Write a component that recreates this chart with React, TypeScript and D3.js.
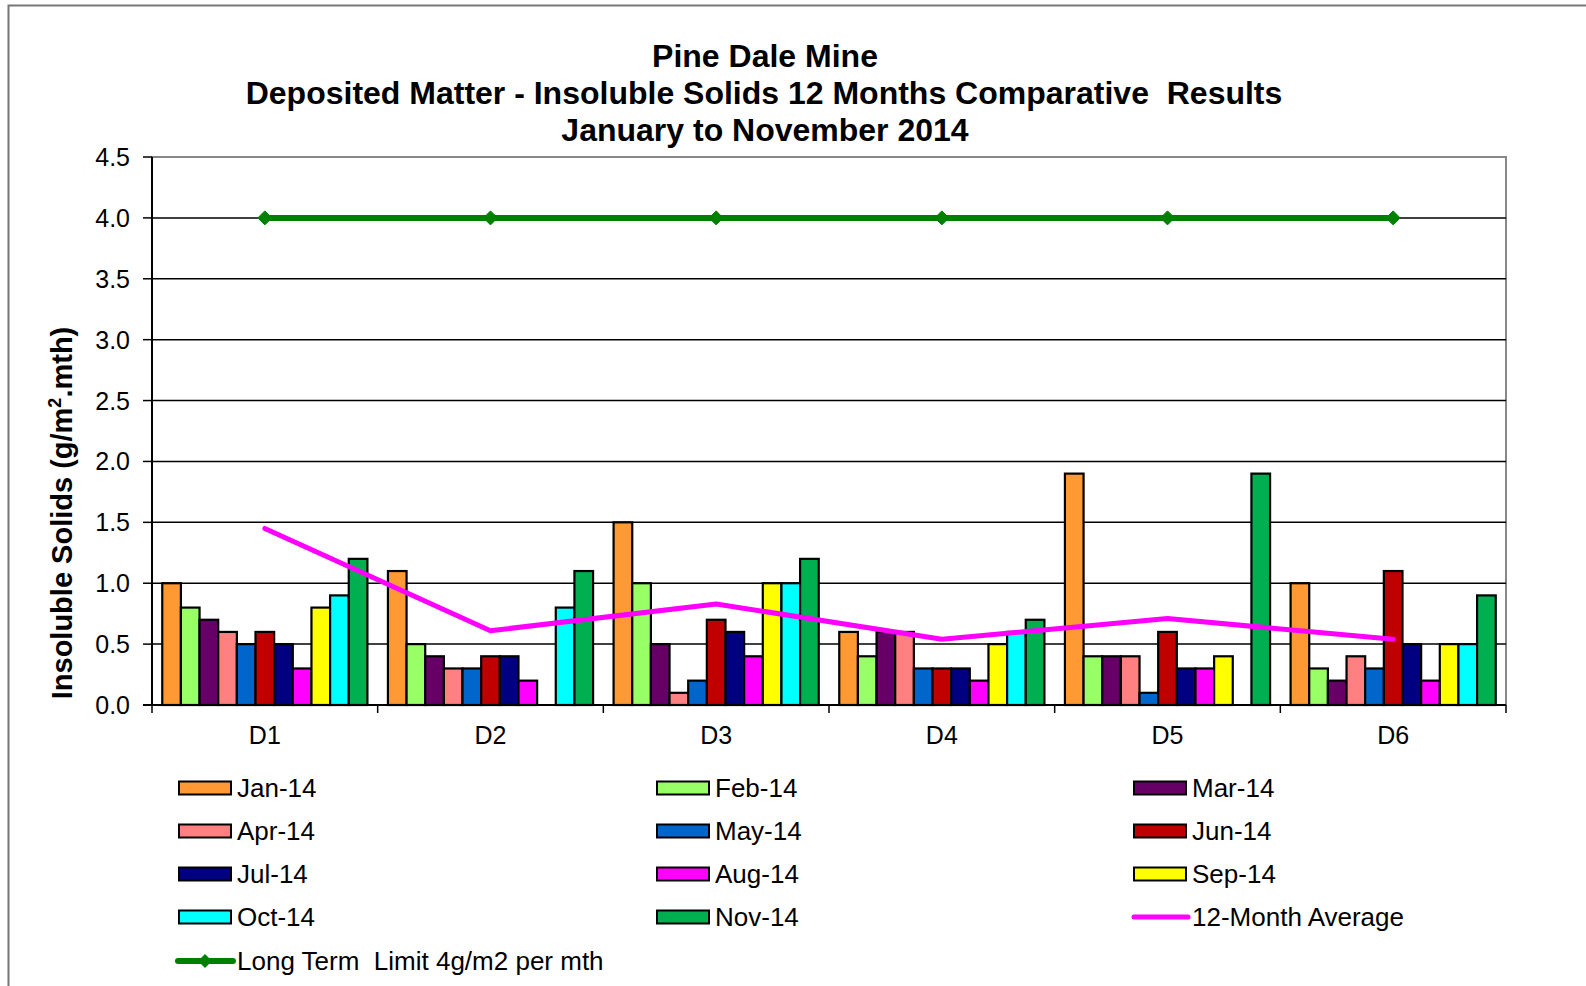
import React from "react";
import * as d3 from "d3";

// Sites and series
const sites = ["D1", "D2", "D3", "D4", "D5", "D6"];
const months = ["Jan-14", "Feb-14", "Mar-14", "Apr-14", "May-14", "Jun-14", "Jul-14", "Aug-14", "Sep-14", "Oct-14", "Nov-14"];
const monthColors = ["#FF9933", "#99FF66", "#660066", "#FF8080", "#0066CC", "#C00000", "#000080", "#FF00FF", "#FFFF00", "#00FFFF", "#00B050"];

// values per site, in month order (null = no sample)
const d1 = [1.0, 0.8, 0.7, 0.6, 0.5, 0.6, 0.5, 0.3, 0.8, 0.9, 1.2];
const d2 = [1.1, 0.5, 0.4, 0.3, 0.3, 0.4, 0.4, 0.2, null, 0.8, 1.1];
const d3v = [1.5, 1.0, 0.5, 0.1, 0.2, 0.7, 0.6, 0.4, 1.0, 1.0, 1.2];
const d4 = [0.6, 0.4, 0.6, 0.6, 0.3, 0.3, 0.3, 0.2, 0.5, 0.6, 0.7];
const d5 = [1.9, 0.4, 0.4, 0.4, 0.1, 0.6, 0.3, 0.3, 0.4, null, 1.9];
const d6 = [1.0, 0.3, 0.2, 0.4, 0.3, 1.1, 0.5, 0.2, 0.5, 0.5, 0.9];
const siteValues = [d1, d2, d3v, d4, d5, d6];

const average12 = [1.45, 0.61, 0.83, 0.54, 0.71, 0.54];
const longTermLimit = [4, 4, 4, 4, 4, 4];
const yTicks = [0, 0.5, 1.0, 1.5, 2.0, 2.5, 3.0, 3.5, 4.0, 4.5];

const FONT = "'Liberation Sans', Arial, sans-serif";

export default function App() {
  const W = 1586;
  const H = 986;
  const left = 152, right = 1506, top = 157, bottom = 705;

  const x = d3.scaleBand<string>().domain(sites).range([left, right]).paddingInner(0).paddingOuter(0);
  const xInner = d3.scaleBand<string>().domain(months).range([0, x.bandwidth()]).paddingOuter(0.55).paddingInner(0);
  const y = d3.scaleLinear().domain([0, 4.5]).range([bottom, top]);

  const cx = (s: string) => (x(s) as number) + x.bandwidth() / 2;

  const avgLine = d3.line<number>().x((_, i) => cx(sites[i])).y(d => y(d))(average12) as string;
  const limitLine = d3.line<number>().x((_, i) => cx(sites[i])).y(d => y(d))(longTermLimit) as string;

  const diamond = (px: number, py: number, r: number) =>
    `M${px},${py - r}L${px + r},${py}L${px},${py + r}L${px - r},${py}Z`;

  // legend layout
  const legendCols = [179, 657, 1134];
  const legendRows = [788, 831, 874, 917, 961];
  type LegendItem = { label: string; kind: "bar" | "avg" | "limit"; color: string };
  const legendItems: LegendItem[] = [
    ...months.map((m, i) => ({ label: m, kind: "bar" as const, color: monthColors[i] })),
    { label: "12-Month Average", kind: "avg", color: "#FF00FF" },
    { label: "Long Term  Limit 4g/m2 per mth", kind: "limit", color: "#008000" },
  ];

  return (
    <svg width={W} height={H} style={{ position: "absolute", left: 0, top: 0, background: "#fff" }} fontFamily={FONT}>
      {/* outer chart border */}
      <path d={`M8.5,${H}V5.5H${W}`} fill="none" stroke="#777" strokeWidth={2} />

      {/* title */}
      <g fontWeight="bold" fontSize={32} textAnchor="middle" fill="#000">
        <text x={765} y={67}>Pine Dale Mine</text>
        <text x={764} y={104} style={{ whiteSpace: "pre" }}>Deposited Matter - Insoluble Solids 12 Months Comparative  Results</text>
        <text x={765} y={141}>January to November 2014</text>
      </g>

      {/* plot frame and grid */}
      <rect x={left} y={top} width={right - left} height={bottom - top} fill="none" stroke="#888" strokeWidth={2} />
      {yTicks.map(t => (
        <g key={t}>
          {t > 0 && t < 4.5 && <line x1={left} x2={right} y1={y(t)} y2={y(t)} stroke="#000" strokeWidth={1.5} />}
          <line x1={left - 9} x2={left} y1={y(t)} y2={y(t)} stroke="#000" strokeWidth={1.5} />
          <text x={130} y={y(t) + 9} fontSize={25} textAnchor="end" fill="#000">{t.toFixed(1)}</text>
        </g>
      ))}

      {/* bars */}
      {sites.map((s, si) => (
        <g key={s} transform={`translate(${x(s)},0)`}>
          {siteValues[si].map((v, mi) =>
            v == null ? null : (
              <rect key={mi} x={xInner(months[mi])} y={y(v)} width={xInner.bandwidth()} height={y(0) - y(v)}
                fill={monthColors[mi]} stroke="#000" strokeWidth={2.2} />
            )
          )}
        </g>
      ))}

      {/* axes */}
      <line x1={left} x2={left} y1={top} y2={bottom} stroke="#000" strokeWidth={2} />
      <line x1={left - 9} x2={right} y1={bottom} y2={bottom} stroke="#000" strokeWidth={2} />
      {sites.concat(["end"]).map((s, i) => (
        <line key={s} x1={left + i * x.bandwidth()} x2={left + i * x.bandwidth()} y1={bottom} y2={bottom + 8} stroke="#000" strokeWidth={1.5} />
      ))}
      {sites.map(s => (
        <text key={s} x={cx(s)} y={744} fontSize={25} textAnchor="middle" fill="#000">{s}</text>
      ))}

      {/* lines */}
      <path d={avgLine} fill="none" stroke="#FF00FF" strokeWidth={5} strokeLinejoin="round" strokeLinecap="round" />
      <path d={limitLine} fill="none" stroke="#008000" strokeWidth={6} />
      {longTermLimit.map((v, i) => (
        <path key={i} d={diamond(cx(sites[i]), y(v), 7)} fill="#008000" stroke="#008000" strokeWidth={1} />
      ))}

      {/* y axis title */}
      <text transform={`translate(72,513) rotate(-90)`} fontSize={29} fontWeight="bold" textAnchor="middle" fill="#000">
        Insoluble Solids (g/m<tspan fontSize={18} dy={-11}>2</tspan><tspan dy={11}>.mth)</tspan>
      </text>

      {/* legend */}
      {legendItems.map((it, i) => {
        const col = i < 12 ? i % 3 : 0;
        const row = i < 12 ? Math.floor(i / 3) : 4;
        const lx = legendCols[col];
        const ly = legendRows[row];
        return (
          <g key={it.label}>
            {it.kind === "bar" && (
              <rect x={lx} y={ly - 6.5} width={52} height={13} fill={it.color} stroke="#000" strokeWidth={2} />
            )}
            {it.kind === "avg" && (
              <line x1={lx} x2={lx + 54} y1={ly} y2={ly} stroke={it.color} strokeWidth={5} strokeLinecap="round" />
            )}
            {it.kind === "limit" && (
              <g>
                <line x1={lx - 1} x2={lx + 54} y1={ly} y2={ly} stroke={it.color} strokeWidth={6} strokeLinecap="round" />
                <path d={diamond(lx + 26, ly, 7)} fill={it.color} />
              </g>
            )}
            <text x={lx + 58} y={ly + 9} fontSize={26} fill="#000" style={{ whiteSpace: "pre" }}>{it.label}</text>
          </g>
        );
      })}
    </svg>
  );
}
